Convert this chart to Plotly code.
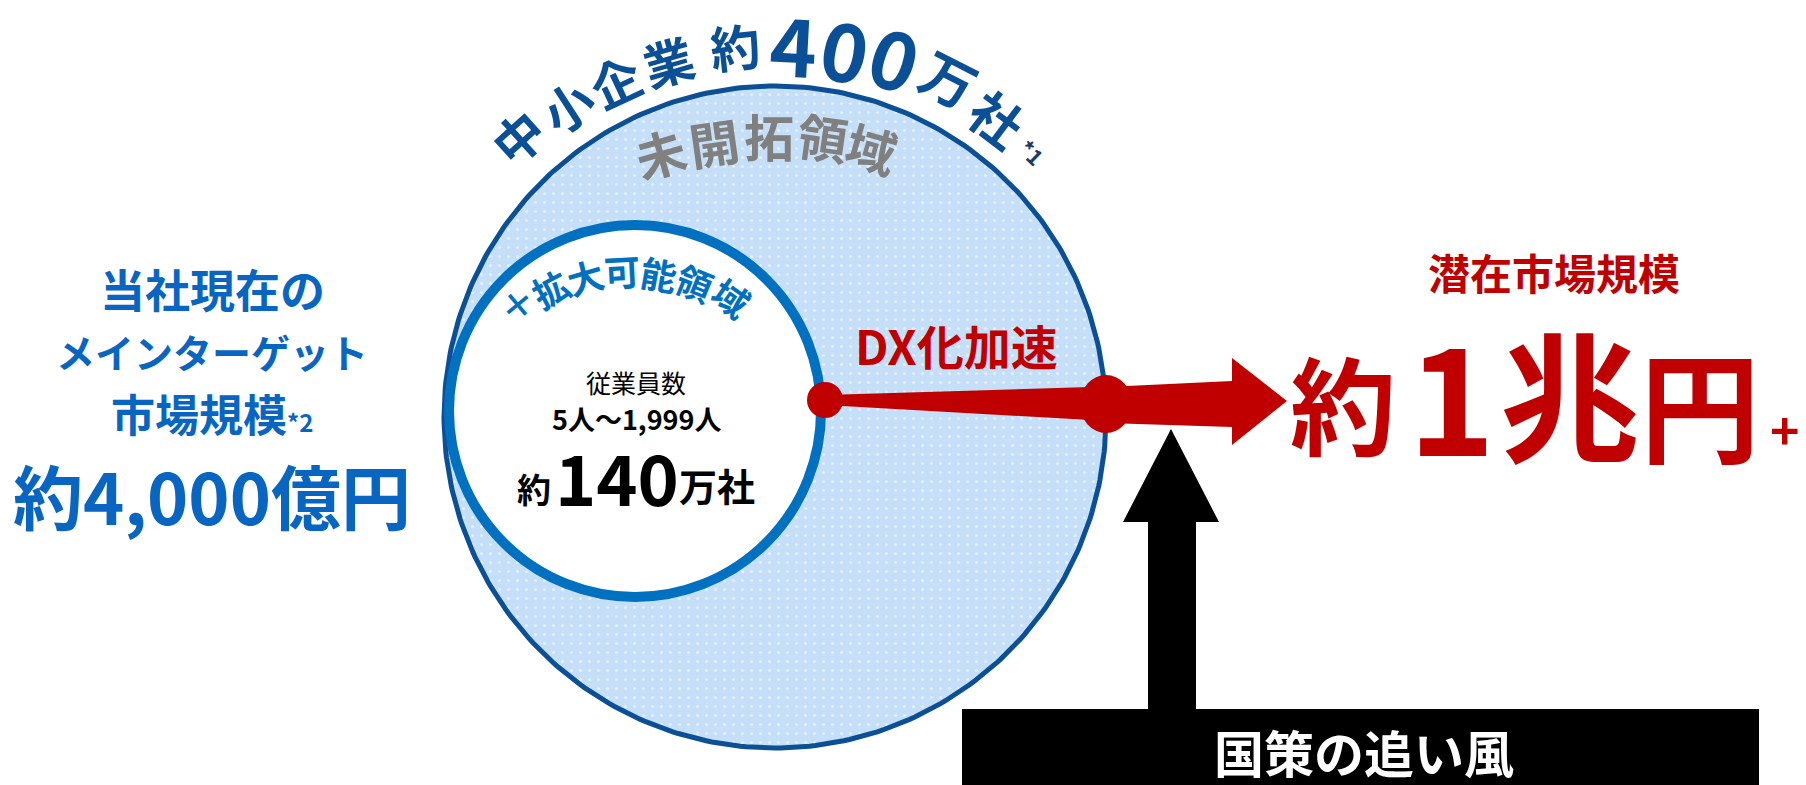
import numpy as np
import plotly.graph_objects as go

W, H = 1806, 785
FONT = "Noto Sans CJK JP"

# ---------------- text content / label data ----------------
outer_arc_chars = ["中", "小", "企", "業", "約", "4", "0", "0", "万", "社", "*1"]
outer_arc_x = [517, 567, 615, 668, 735, 793, 845, 895, 950, 998, 1032]
outer_arc_y = [136, 105, 80, 60, 45, 42, 47, 55, 77, 117, 152]
outer_arc_rot = [-42, -33, -25, -16, -6, 3, 11, 18, 27, 37, 44]
outer_arc_size = [50, 50, 50, 50, 50, 80, 80, 80, 54, 52, 22]

gray_arc_chars = ["未", "開", "拓", "領", "域"]
gray_arc_x = [660, 714, 769, 823, 872]
gray_arc_y = [152, 141, 135, 136, 147]
gray_arc_rot = [-16, -8, 0, 8, 16]

inner_arc_chars = ["＋", "拡", "大", "可", "能", "領", "域"]
inner_arc_x = [516, 550, 585, 622, 659, 695, 732]
inner_arc_y = [303, 288, 276, 270, 273, 282, 297]
inner_arc_rot = [-40, -28, -16, -3, 10, 22, 35]

left_lines = ["当社現在の", "メインターゲット", "市場規模<span style='font-size:24px'>*2</span>", "約4,000億円"]
left_y = [288, 351, 413, 494]
left_size = [45, 39, 44, 70]

inner_lines = ["従業員数", "5人〜1,999人"]
inner_y = [382, 418]
inner_size = [25, 27]
inner_weight = ["normal", "bold"]

count_parts = ["約", "140", "万社"]
count_x = [534, 617, 717]
count_y = [488, 475, 484]
count_size = [34, 70, 38]

big_parts = ["約", "1", "兆", "円", "+"]
big_x = [1343, 1451, 1570, 1700, 1785]
big_y = [401, 391, 390, 402, 428]
big_size = [106, 148, 140, 120, 50]

# ---------------- colours ----------------
DARK_BLUE = "#0B4F96"
RING_BLUE = "#0070C0"
TEXT_BLUE = "#0866C2"
RED = "#C00000"
GRAY = "#808080"
FILL_BLUE = "#C6DFF8"

# ---------------- geometry ----------------
outer_c, outer_r = (775, 417), 331
inner_c, inner_r = (635, 411), 186

fig = go.Figure()

t = np.linspace(0, 2 * np.pi, 361)
fig.add_trace(go.Scatter(
    x=outer_c[0] + outer_r * np.cos(t), y=outer_c[1] + outer_r * np.sin(t),
    mode="lines", fill="toself", fillcolor=FILL_BLUE,
    fillpattern=dict(shape=".", bgcolor=FILL_BLUE, fgcolor="white", size=9, solidity=0.1),
    line=dict(color=DARK_BLUE, width=5), hoverinfo="skip", showlegend=False))

shapes = []
shapes.append(dict(type="circle", xref="x", yref="y",
                   x0=inner_c[0] - inner_r, x1=inner_c[0] + inner_r,
                   y0=inner_c[1] - inner_r, y1=inner_c[1] + inner_r,
                   fillcolor="white", line=dict(color=RING_BLUE, width=10)))


def poly(pts):
    return "M " + " L ".join(f"{x},{y}" for x, y in pts) + " Z"


# red arrow (DX acceleration)
shaft1 = [(825, 395), (1090, 387), (1090, 420), (825, 405)]
shaft2 = [(1106, 387), (1232, 381), (1232, 358), (1287, 401), (1232, 445), (1232, 427), (1106, 423)]
shapes.append(dict(type="path", path=poly(shaft1), fillcolor=RED, line=dict(width=0)))
shapes.append(dict(type="path", path=poly(shaft2), fillcolor=RED, line=dict(width=0)))
shapes.append(dict(type="circle", x0=807, x1=843, y0=382, y1=418, fillcolor=RED, line=dict(width=0)))
shapes.append(dict(type="circle", x0=1080, x1=1132, y0=375, y1=433, fillcolor=RED, line=dict(width=0)))

# black arrow and box
black_arrow = [(1148, 712), (1148, 522), (1123, 522), (1171, 429), (1219, 522), (1196, 522), (1196, 712)]
shapes.append(dict(type="path", path=poly(black_arrow), fillcolor="black", line=dict(width=0)))
shapes.append(dict(type="rect", x0=962, x1=1759, y0=709, y1=790, fillcolor="black", line=dict(width=0)))

ann = []


def add_text(text, x, y, size, color, rot=0, weight="bold"):
    ann.append(dict(text=text, x=x, y=y, xref="x", yref="y", showarrow=False,
                    xanchor="center", yanchor="middle", textangle=rot,
                    font=dict(family=FONT, size=size, color=color, weight=weight)))


for ch, x, y, r, s in zip(outer_arc_chars, outer_arc_x, outer_arc_y, outer_arc_rot, outer_arc_size):
    add_text(ch, x, y, s, "#1F3864" if ch == "*1" else DARK_BLUE, r)
for ch, x, y, r in zip(gray_arc_chars, gray_arc_x, gray_arc_y, gray_arc_rot):
    add_text(ch, x, y, 50, GRAY, r)
for ch, x, y, r in zip(inner_arc_chars, inner_arc_x, inner_arc_y, inner_arc_rot):
    add_text(ch, x, y, 36, RING_BLUE, r)
for line, y, s in zip(left_lines, left_y, left_size):
    add_text(line, 212, y, s, TEXT_BLUE)
for line, y, s, w in zip(inner_lines, inner_y, inner_size, inner_weight):
    add_text(line, 636, y, s, "black", weight=w)
for p, x, y, s in zip(count_parts, count_x, count_y, count_size):
    add_text(p, x, y, s, "black")
add_text("DX化加速", 956, 344, 47, RED)
add_text("潜在市場規模", 1554, 271, 42, RED)
for p, x, y, s in zip(big_parts, big_x, big_y, big_size):
    add_text(p, x, y, s, RED)
add_text("国策の追い風", 1364, 751, 50, "white")

fig.update_layout(
    width=W, height=H, autosize=False,
    margin=dict(l=0, r=0, t=0, b=0),
    paper_bgcolor="white", plot_bgcolor="white",
    xaxis=dict(range=[0, W], visible=False, fixedrange=True),
    yaxis=dict(range=[H, 0], visible=False, fixedrange=True),
    shapes=shapes, annotations=ann, showlegend=False,
)

fig.write_html("out.html", config={"displayModeBar": False, "staticPlot": True},
               post_script="document.body.style.margin='0';document.body.style.overflow='hidden';")
